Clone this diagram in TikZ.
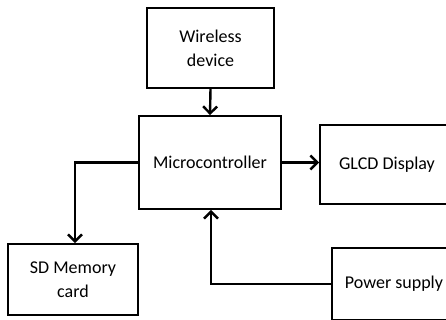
\documentclass[tikz,border=0pt]{standalone}
\usepackage{fontspec}
\setmainfont{Carlito}
\usetikzlibrary{arrows.meta}
\begin{document}
\begin{tikzpicture}[x=1pt,y=-1pt,
  blk/.style={draw=black,line width=1.8pt,fill=white,align=center,inner sep=0pt,
    font=\fontsize{18}{24}\selectfont},
  conn/.style={line width=2.4pt,-{Straight Barb[length=7pt,width=14pt,line width=2.4pt]}}]
\useasboundingbox (0,0) rectangle (446,320);
\clip (0,0) rectangle (446,320);
\fill[white] (0,0) rectangle (446,320);
\node[blk,minimum width=127pt,minimum height=80pt] (wd) at (210.5,48) {Wireless\\device};
\node[blk,minimum width=142pt,minimum height=93pt] (mc) at (210,162.5) {Microcontroller};
\node[blk,minimum width=134pt,minimum height=79pt] (gl) at (387,164.5) {GLCD Display};
\node[blk,minimum width=130pt,minimum height=71pt] (sd) at (73,279.5) {SD Memory\\card};
\node[blk,minimum width=124pt,minimum height=72pt] (ps) at (394,284) {Power supply};
\coordinate (c1) at (75,162.5);
\coordinate (c2) at (211,284);
\draw[conn] (wd.south) -- (mc.north);
\draw[conn] (mc.east) -- (gl.west |- mc.east);
\draw[conn] (mc.west) -- (c1) -- (c1 |- sd.north);
\draw[conn] (ps.west) -- (c2) -- (c2 |- mc.south);
\end{tikzpicture}
\end{document}
